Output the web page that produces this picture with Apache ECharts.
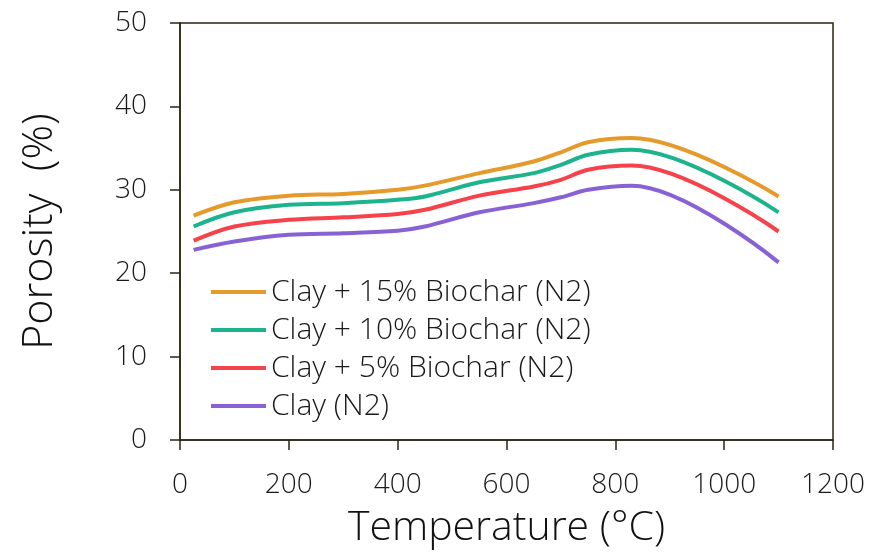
<!DOCTYPE html>
<html><head><meta charset="utf-8">
<script src="https://cdn.jsdelivr.net/npm/echarts@6/dist/echarts.min.js"></script>
<style>html,body{margin:0;padding:0;background:#fff}#c{width:879px;height:554px}</style>
</head><body><div id="c"></div>
<script>
const temps = [25, 100, 200, 300, 400, 450, 550, 650, 700, 750, 830, 1100];
const seriesNames = ['Clay + 15% Biochar (N2)', 'Clay + 10% Biochar (N2)', 'Clay + 5% Biochar (N2)', 'Clay (N2)'];
const clay15 = [26.9, 28.5, 29.3, 29.5, 30.0, 30.5, 32.0, 33.4, 34.5, 35.7, 36.2, 29.2];
const clay10 = [25.6, 27.3, 28.2, 28.4, 28.8, 29.2, 30.9, 32.0, 33.0, 34.2, 34.8, 27.3];
const clay5  = [23.9, 25.6, 26.4, 26.7, 27.1, 27.6, 29.3, 30.4, 31.2, 32.4, 32.9, 25.0];
const clay0  = [22.8, 23.8, 24.6, 24.8, 25.1, 25.6, 27.3, 28.4, 29.1, 30.0, 30.5, 21.3];
const colors = ['#E59A2A', '#1DB48D', '#F6424A', '#8862D4'];
const xTicks = [0, 200, 400, 600, 800, 1000, 1200];
const yTicks = [0, 10, 20, 30, 40, 50];

const values = [clay15, clay10, clay5, clay0];
const font = '"Open Sans", "Noto Sans", sans-serif';
const axisColor = '#2a2614';
const chart = echarts.init(document.getElementById('c'));
chart.setOption({
  animation: false,
  grid: {left: 180, right: 46, top: 23, bottom: 113, show: true, borderColor: axisColor, borderWidth: 1.5},
  legend: {
    left: 206, top: 272, orient: 'vertical', itemWidth: 55, itemHeight: 4, itemGap: 8,
    icon: 'rect',
    textStyle: {fontFamily: font, fontSize: 30, color: '#1a1a1a', fontWeight: 300},
    data: seriesNames
  },
  xAxis: {
    type: 'value', min: xTicks[0], max: xTicks[xTicks.length - 1], interval: 200,
    name: 'Temperature (°C)', nameLocation: 'middle', nameGap: 68,
    nameTextStyle: {fontFamily: font, fontSize: 41, color: '#111', fontWeight: 300},
    axisLine: {show: true, lineStyle: {color: axisColor, width: 1.5}},
    axisTick: {show: true, inside: false, length: 10, lineStyle: {color: axisColor, width: 1.5}},
    axisLabel: {fontFamily: font, fontSize: 28, color: '#1a1a1a', margin: 31, fontWeight: 300,
      formatter: v => String(v)},
    splitLine: {show: false}
  },
  yAxis: {
    type: 'value', min: yTicks[0], max: yTicks[yTicks.length - 1], interval: 10,
    name: 'Porosity  (%)', nameLocation: 'middle', nameGap: 119, nameRotate: 90,
    nameTextStyle: {fontFamily: font, fontSize: 43, color: '#111', fontWeight: 300},
    axisLine: {show: true, lineStyle: {color: axisColor, width: 1.5}},
    axisTick: {show: true, inside: false, length: 10, lineStyle: {color: axisColor, width: 1.5}},
    axisLabel: {fontFamily: font, fontSize: 28, color: '#1a1a1a', margin: 33, fontWeight: 300},
    splitLine: {show: false}
  },
  series: seriesNames.map((n, i) => ({
    name: n, type: 'line', smooth: 0.35, showSymbol: false, symbol: 'none',
    data: temps.map((t, j) => [t, values[i][j]]),
    lineStyle: {color: colors[i], width: 4},
    itemStyle: {color: colors[i]},
    z: 10 - i
  }))
});
</script></body></html>
